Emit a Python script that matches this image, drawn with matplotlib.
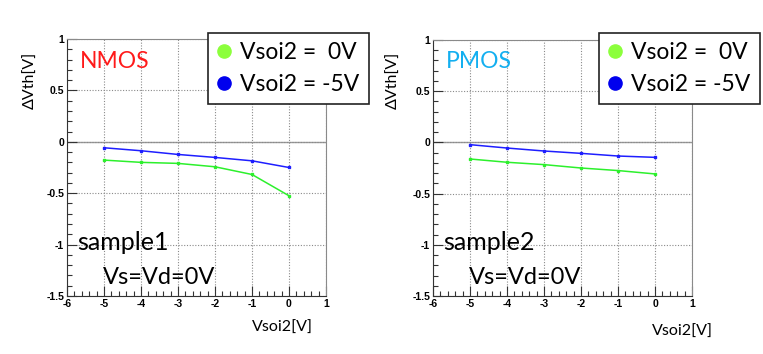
#!/usr/bin/env python3
"""Delta Vth vs Vsoi2 for NMOS (sample1) and PMOS (sample2), ROOT-style panels."""

import matplotlib

matplotlib.use("Agg")
import matplotlib.pyplot as plt
from matplotlib.lines import Line2D
from matplotlib.ticker import MultipleLocator

# ---- data -----------------------------------------------------------------
vsoi2 = [-5, -4, -3, -2, -1, 0]

nmos_0v = [-0.178, -0.200, -0.210, -0.243, -0.318, -0.525]
nmos_m5v = [-0.058, -0.087, -0.123, -0.152, -0.185, -0.250]

pmos_0v = [-0.162, -0.194, -0.217, -0.250, -0.275, -0.308]
pmos_m5v = [-0.022, -0.055, -0.084, -0.107, -0.133, -0.146]

legend_labels = ["Vsoi2 =  0V", "Vsoi2 = -5V"]
x_ticks = [-6, -5, -4, -3, -2, -1, 0, 1]
y_ticks = [-1.5, -1, -0.5, 0, 0.5, 1]
y_tick_labels = ["-1.5", "-1", "-0.5", "0", "0.5", "1"]

GREEN = "#2cf02c"
BLUE = "#1e1eff"
LEG_GREEN = "#8cff3c"
LEG_BLUE = "#0000ee"
TEXT_FONT = ["Lato", "DejaVu Sans"]
TICK_FONT = ["Liberation Sans", "DejaVu Sans"]

W, H = 763, 354
fig = plt.figure(figsize=(W / 100, H / 100), dpi=100)


def fx(px):
    return px / W


def fy(py):
    return 1 - py / H


def panel(x0, x1, y0, y1, s0, s5, device, dev_color, sample, ylab_x, xlab_x, xlab_y, leg_x):
    ax = fig.add_axes([fx(x0), fy(y1), fx(x1 - x0), (y1 - y0) / H])
    ax.set_xlim(-6, 1)
    ax.set_ylim(-1.5, 1)

    ax.set_xticks(x_ticks)
    ax.set_xticklabels([str(t) for t in x_ticks])
    ax.set_yticks(y_ticks)
    ax.set_yticklabels(y_tick_labels)
    ax.xaxis.set_minor_locator(MultipleLocator(0.2))
    ax.yaxis.set_minor_locator(MultipleLocator(0.1))
    ax.tick_params(which="both", direction="in", top=False, right=False,
                   color="#333333", width=0.8)
    ax.tick_params(which="major", length=7, pad=2)
    ax.tick_params(which="minor", length=3.5)
    for lab in ax.get_xticklabels() + ax.get_yticklabels():
        lab.set_fontfamily(TICK_FONT)
        lab.set_fontweight("bold")
        lab.set_fontsize(7.5)

    ax.grid(True, which="major", linestyle=(0, (1, 1.5)), color="#8a8a8a", linewidth=0.8)
    ax.axhline(0, color="#9a9a9a", linewidth=1.0, zorder=1)
    for side in ("top", "right"):
        ax.spines[side].set_color("#8a8a8a")
    for side in ("left", "bottom"):
        ax.spines[side].set_color("#333333")

    ax.plot(vsoi2, s0, color=GREEN, linewidth=1.1, marker="s", markersize=2, zorder=3)
    ax.plot(vsoi2, s5, color=BLUE, linewidth=1.1, marker="s", markersize=2, zorder=3)

    # annotations (placed in figure pixels like the slide text boxes)
    fig.text(fx(x0 + 13), fy(62), device, color=dev_color, fontsize=16.5,
             family=TEXT_FONT, ha="left", va="center")
    fig.text(fx(x0 + 10), fy(242), sample, color="black", fontsize=18,
             family=TEXT_FONT, ha="left", va="center")
    fig.text(fx(x0 + 36), fy(278), "Vs=Vd=0V", color="black", fontsize=17,
             family=TEXT_FONT, ha="left", va="center")

    fig.text(fx(ylab_x), fy(52), "ΔVth[V]", rotation=90, fontsize=11.5,
             family=TEXT_FONT, ha="center", va="top")
    fig.text(fx(xlab_x), fy(xlab_y), "Vsoi2[V]", fontsize=11.5,
             family=TEXT_FONT, ha="right", va="center")

    handles = [
        Line2D([], [], linestyle="none", marker="o", markersize=9.5,
               markerfacecolor=LEG_GREEN, markeredgecolor=LEG_GREEN),
        Line2D([], [], linestyle="none", marker="o", markersize=9.5,
               markerfacecolor=LEG_BLUE, markeredgecolor=LEG_BLUE),
    ]
    leg = ax.legend(handles, legend_labels, loc="upper left",
                    bbox_to_anchor=(fx(leg_x), fy(33)), bbox_transform=fig.transFigure,
                    borderaxespad=0, fancybox=False, framealpha=1, edgecolor="#222222",
                    handlelength=0.6, handletextpad=0.4, borderpad=0.4,
                    labelspacing=0.48, prop={"family": TEXT_FONT, "size": 16.5})
    leg.get_frame().set_linewidth(1.2)
    leg.set_zorder(10)
    return ax


panel(67, 326, 39, 296, nmos_0v, nmos_m5v, "NMOS", "#ff1a1a", "sample1",
      ylab_x=31, xlab_x=313, xlab_y=328, leg_x=208)
panel(433, 692, 40, 296, pmos_0v, pmos_m5v, "PMOS", "#13aff0", "sample2",
      ylab_x=394, xlab_x=713, xlab_y=332, leg_x=599)

fig.savefig("out.png", dpi=100)
